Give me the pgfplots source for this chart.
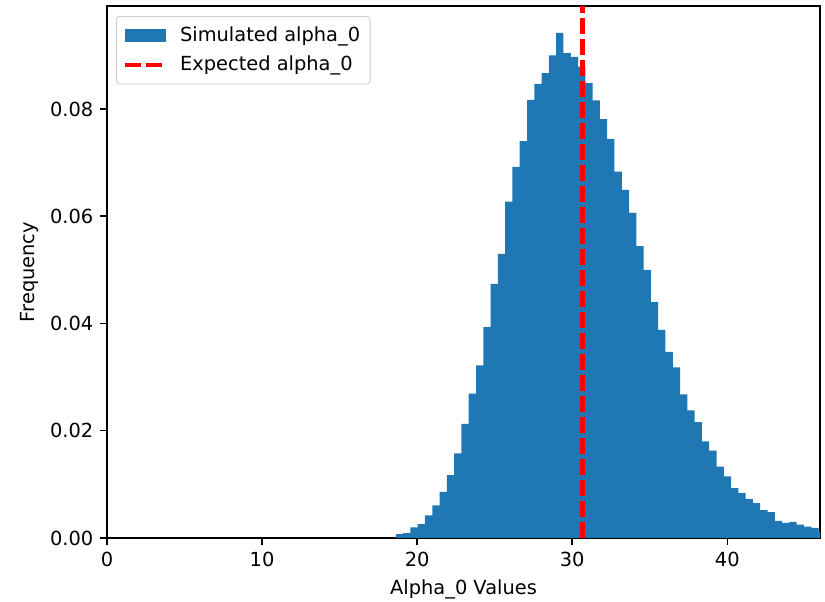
\documentclass[border=0pt]{standalone}
\usepackage{fontspec}
\setmainfont{DejaVu Sans}
\usepackage{pgfplots}
\pgfplotsset{compat=1.18}
\definecolor{mplblue}{HTML}{1F77B4}
\newcommand\mplfont{\fontsize{9.7pt}{11.6pt}\selectfont}
\begin{document}
\begin{tikzpicture}[font=\mplfont]
\begin{axis}[
  name=ax,
  scale only axis,
  width=356.5pt, height=266pt,
  xmin=0, xmax=45.98, ymin=0, ymax=0.0992,
  xtick={0,10,20,30,40},
  ytick={0,0.02,0.04,0.06,0.08},
  scaled y ticks=false,
  /pgf/number format/assume math mode=true,
  yticklabel style={/pgf/number format/fixed, /pgf/number format/fixed zerofill, /pgf/number format/precision=2},
  tick align=outside, tick pos=left,
  major tick length=3.3pt,
  every tick/.style={black, line width=0.75pt},
  axis line style={line width=0.75pt},
  xlabel={Alpha\_0 Values},
  ylabel={Frequency},
  xlabel style={at={(axis description cs:0.5,-0.1053)}, anchor=base},
  ylabel style={at={(axis description cs:-0.101,0.5)}, anchor=base},
  legend cell align=left,
  legend style={at={(axis description cs:0.0126,0.981)}, anchor=north west,
    draw=black!20, rounded corners=1.5pt, fill=white, fill opacity=0.8, text opacity=1,
    inner xsep=3pt, inner ysep=3pt, row sep=2pt, column sep=4pt,
    nodes={inner sep=2pt}, font=\mplfont},
]
\addplot[ybar interval, fill=mplblue, draw=none,
  legend image code/.code={\fill[mplblue, fill opacity=1, sharp corners] (0pt,-3.25pt) rectangle (20.5pt,3.25pt);}]
coordinates {
(18.626,0.0007) (19.096,0.0009) (19.566,0.0020) (20.036,0.0026) (20.506,0.0042)
(20.976,0.0061) (21.446,0.0086) (21.916,0.0117) (22.386,0.0158) (22.856,0.0213)
(23.326,0.0269) (23.796,0.0322) (24.266,0.0393) (24.736,0.0474) (25.206,0.0530)
(25.676,0.0627) (26.146,0.0692) (26.616,0.0740) (27.086,0.0817) (27.556,0.0847)
(28.026,0.0867) (28.496,0.0900) (28.966,0.0942) (29.436,0.0904) (29.906,0.0897)
(30.376,0.0879) (30.846,0.0848) (31.316,0.0816) (31.786,0.0781) (32.256,0.0744)
(32.726,0.0683) (33.196,0.0649) (33.666,0.0606) (34.136,0.0544) (34.606,0.0500)
(35.076,0.0440) (35.546,0.0388) (36.016,0.0347) (36.486,0.0318) (36.956,0.0268)
(37.426,0.0238) (37.896,0.0216) (38.366,0.0180) (38.836,0.0163) (39.306,0.0133)
(39.776,0.0115) (40.246,0.0093) (40.716,0.0084) (41.186,0.0073) (41.656,0.0065)
(42.126,0.0052) (42.596,0.0048) (43.066,0.0032) (43.536,0.0028) (44.006,0.0030)
(44.476,0.0025) (44.946,0.0021) (45.416,0.0019) (45.886,0.0012) (46.356,0.0012)
};
\addlegendentry{Simulated alpha\_0}
\addplot[red, line width=2.35pt, dash pattern=on 8pt off 2.5pt,
  legend image code/.code={\draw[red, line width=2.35pt, dash pattern=on 8pt off 2.5pt, sharp corners] (0pt,0pt) -- (20.5pt,0pt);}]
coordinates {(30.65,0) (30.65,0.0992)};
\addlegendentry{Expected alpha\_0}
\end{axis}
\pgfresetboundingbox
\path[use as bounding box] ([xshift=-53.5pt,yshift=-32pt]ax.south west) rectangle ([xshift=2.5pt,yshift=3pt]ax.north east);
\end{tikzpicture}
\end{document}
